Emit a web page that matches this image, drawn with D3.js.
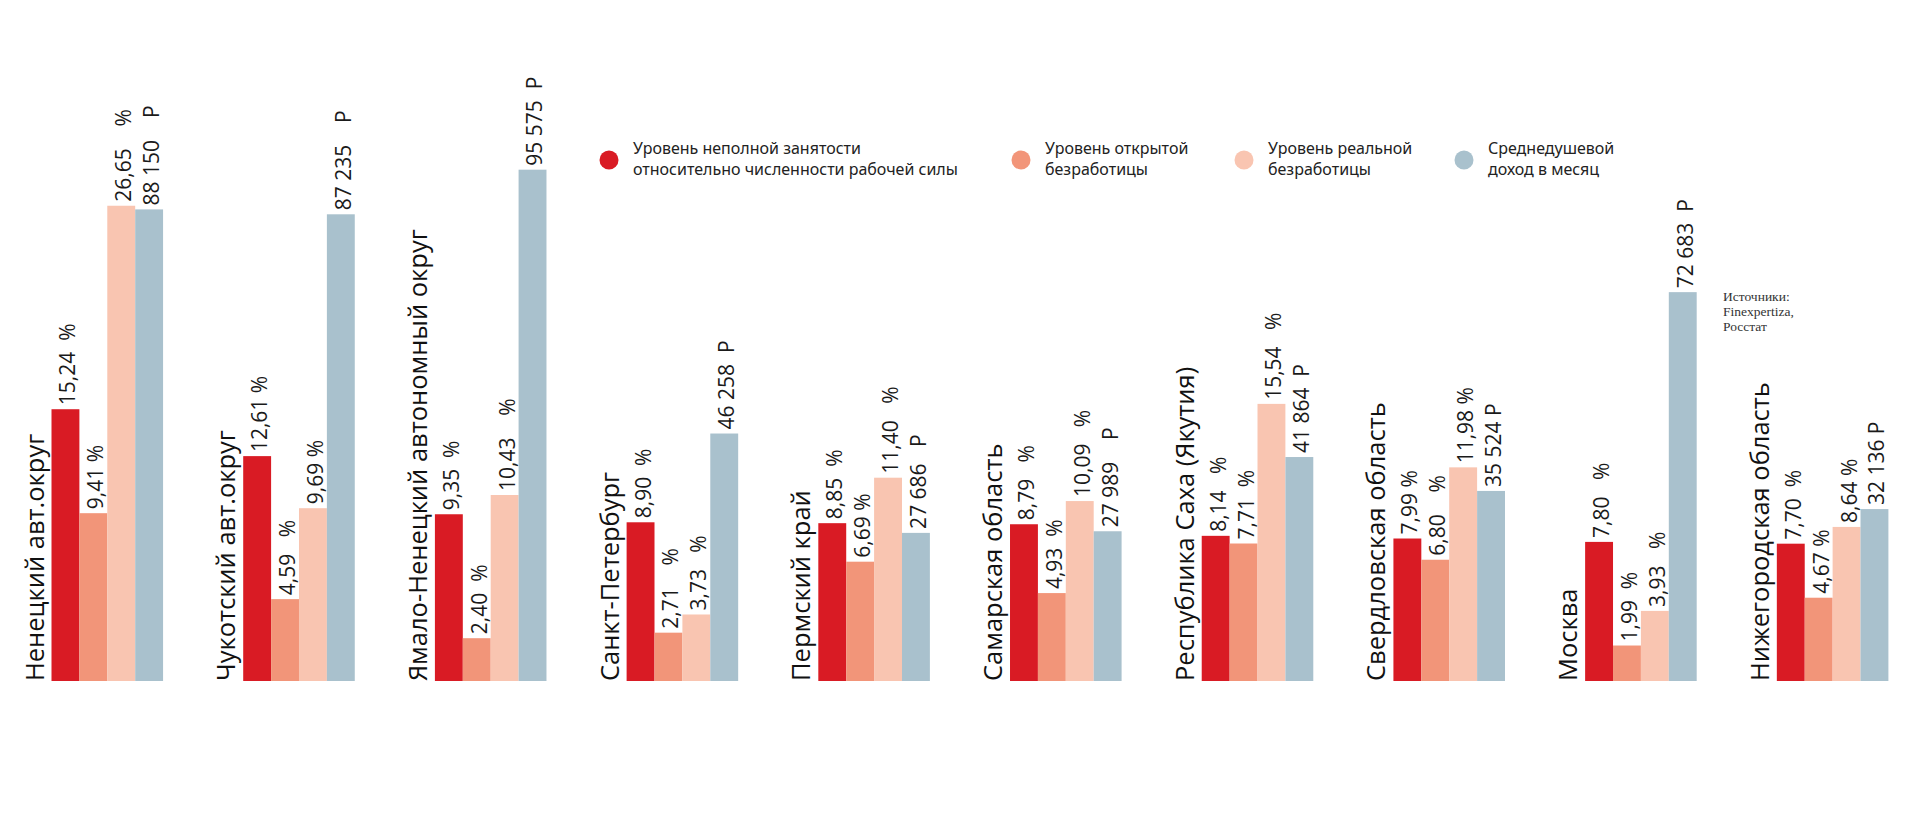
<!DOCTYPE html>
<html lang="ru">
<head>
<meta charset="utf-8">
<script src="https://cdn.jsdelivr.net/npm/d3@7"></script>
<style>
  html, body { margin: 0; padding: 0; background: #fff; }
  svg text { white-space: pre; }
</style>
</head>
<body>
<svg id="chart" width="1920" height="834"></svg>
<script>
// ---- data ----
const categories = ["Ненецкий авт.округ", "Чукотский авт.округ", "Ямало-Ненецкий автономный округ",
  "Санкт-Петербург", "Пермский край", "Самарская область", "Республика Саха (Якутия)",
  "Свердловская область", "Москва", "Нижегородская область"];
const underemployment = [15.24, 12.61, 9.35, 8.90, 8.85, 8.79, 8.14, 7.99, 7.80, 7.70];
const openUnemployment = [9.41, 4.59, 2.40, 2.71, 6.69, 4.93, 7.71, 6.80, 1.99, 4.67];
const realUnemployment = [26.65, 9.69, 10.43, 3.73, 11.40, 10.09, 15.54, 11.98, 3.93, 8.64];
const income = [88150, 87235, 95575, 46258, 27686, 27989, 41864, 35524, 72683, 32136];

const underLabels = ["15,24  %", "12,61 %", "9,35  %", "8,90  %", "8,85  %", "8,79   %", "8,14   %", "7,99 %", "7,80   %", "7,70  %"];
const openLabels = ["9,41 %", "4,59   %", "2,40  %", "2,71    %", "6,69 %", "4,93  %", "7,71  %", "6,80    %", "1,99  %", "4,67 %"];
const realLabels = ["26,65    %", "9,69 %", "10,43    %", "3,73   %", "11,40   %", "10,09   %", "15,54   %", "11,98 %", "3,93   %", "8,64 %"];
const incomeLabels = ["88 150    Р", "87 235    Р", "95 575  Р", "46 258  Р", "27 686   Р", "27 989    Р", "41 864  Р", "35 524 Р", "72 683  Р", "32 136 Р"];

const seriesNames = ["Уровень неполной занятости\nотносительно численности рабочей силы",
  "Уровень открытой\nбезработицы", "Уровень реальной\nбезработицы", "Среднедушевой\nдоход в месяц"];
const seriesKeys = ["under", "open", "real", "income"];
const sourceLines = ["Источники:", "Finexpertiza,", "Росстат"];

// ---- layout ----
const colors = { under: "#d91b24", open: "#f29579", real: "#f9c5b1", income: "#a9c1cd" };
const baseY = 681, topY = 146;
const svg = d3.select("#chart");

const x0 = d3.scaleBand().domain(categories).range([51.5, 1888.4]).paddingInner(0.418).paddingOuter(0);
const x1 = d3.scaleBand().domain(seriesKeys).range([0, x0.bandwidth()]).padding(0);
const yPct = d3.scaleLinear().domain([0, 30]).range([baseY, topY]);
const yRub = d3.scaleLinear().domain([0, 100000]).range([baseY, topY]);

const rows = categories.map((c, i) => ({
  cat: c,
  bars: [
    { key: "under", v: underemployment[i], y: yPct, label: underLabels[i] },
    { key: "open", v: openUnemployment[i], y: yPct, label: openLabels[i] },
    { key: "real", v: realUnemployment[i], y: yPct, label: realLabels[i] },
    { key: "income", v: income[i], y: yRub, label: incomeLabels[i] }
  ]
}));

const g = svg.append("g").selectAll("g.grp").data(rows).join("g")
  .attr("class", "grp")
  .attr("transform", d => `translate(${x0(d.cat)},0)`);

g.selectAll("rect").data(d => d.bars).join("rect")
  .attr("x", d => x1(d.key))
  .attr("width", x1.bandwidth())
  .attr("y", d => d.y(d.v))
  .attr("height", d => baseY - d.y(d.v))
  .attr("fill", d => colors[d.key]);

g.selectAll("text.val").data(d => d.bars).join("text")
  .attr("class", "val")
  .attr("transform", d => `translate(${x1(d.key) + x1.bandwidth() - 4},${d.y(d.v) - 4}) rotate(-90)`)
  .attr("font-family", "'Open Sans', sans-serif")
  .attr("font-size", 21)
  .attr("fill", "#1a1a1a")
  .text(d => d.label);

g.append("text")
  .attr("class", "cat")
  .attr("transform", `translate(-8,${baseY}) rotate(-90)`)
  .attr("font-family", "'Open Sans', sans-serif")
  .attr("font-size", 25.5)
  .attr("fill", "#111")
  .text(d => d.cat);

// ---- legend ----
const legendPos = [609, 1021, 1244, 1464];
const leg = svg.append("g").selectAll("g").data(seriesKeys).join("g")
  .attr("transform", (k, i) => `translate(${legendPos[i]},160)`);
leg.append("circle").attr("r", 9.5).attr("fill", k => colors[k]);
leg.append("text")
  .attr("x", 24)
  .attr("y", -6)
  .attr("font-family", "'Noto Sans', sans-serif")
  .attr("font-size", 16)
  .attr("fill", "#222")
  .selectAll("tspan").data((k, i) => seriesNames[i].split("\n")).join("tspan")
  .attr("x", 24)
  .attr("dy", (d, j) => j === 0 ? 0 : 21)
  .text(d => d);

// ---- source ----
svg.append("text")
  .attr("font-family", "'Liberation Serif', serif")
  .attr("font-size", 13.5)
  .attr("fill", "#333")
  .selectAll("tspan").data(sourceLines).join("tspan")
  .attr("x", 1723)
  .attr("y", (d, i) => 301 + i * 15)
  .text(d => d);
</script>
</body>
</html>
